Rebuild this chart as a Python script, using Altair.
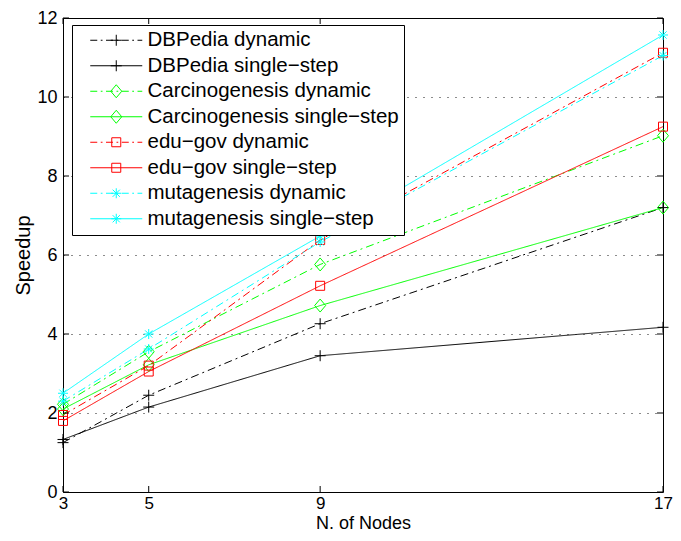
import altair as alt
import pandas as pd

# ---- data ----
nodes = [3, 5, 9, 17]
y_ticks = [0, 2, 4, 6, 8, 10, 12]
series_names = [
    "DBPedia dynamic",
    "DBPedia single\u2212step",
    "Carcinogenesis dynamic",
    "Carcinogenesis single\u2212step",
    "edu\u2212gov dynamic",
    "edu\u2212gov single\u2212step",
    "mutagenesis dynamic",
    "mutagenesis single\u2212step",
]
dbpedia_dynamic = [1.25, 2.45, 4.26, 7.20]
dbpedia_single = [1.33, 2.15, 3.45, 4.17]
carc_dynamic = [2.22, 3.55, 5.76, 9.02]
carc_single = [2.10, 3.22, 4.72, 7.20]
edugov_dynamic = [1.95, 3.20, 6.38, 11.12]
edugov_single = [1.80, 3.05, 5.22, 9.25]
muta_dynamic = [2.30, 3.62, 6.33, 11.05]
muta_single = [2.50, 4.00, 6.48, 11.57]
series_values = [dbpedia_dynamic, dbpedia_single, carc_dynamic, carc_single,
                 edugov_dynamic, edugov_single, muta_dynamic, muta_single]

rows = []
for name, vals in zip(series_names, series_values):
    for n, v in zip(nodes, vals):
        rows.append({"series": name, "nodes": n, "speedup": v})
df = pd.DataFrame(rows)

# ---- styles ----
FONT = "Liberation Sans"
W, H = 600, 474
colors = ["#000000", "#000000", "#00ff00", "#00ff00", "#ff0000", "#ff0000", "#00ffff", "#00ffff"]
DASHDOT = [8, 4, 2, 4]
dashes = [DASHDOT if "dynamic" in s else [1, 0] for s in series_names]
kinds = ["plus", "plus", "diamond", "diamond", "square", "square", "star", "star"]


def marker_path(kind, cx=0.0):
    if kind == "plus":
        return f"M{cx-1.1:.2f},0H{cx+1.1:.2f}M{cx:.2f},-1.1V1.1"
    if kind == "diamond":
        return f"M{cx:.2f},-1.3L{cx+1.1:.2f},0L{cx:.2f},1.3L{cx-1.1:.2f},0Z"
    if kind == "square":
        return f"M{cx-0.9:.2f},-0.9H{cx+0.9:.2f}V0.9H{cx-0.9:.2f}Z"
    d = 0.72
    return (f"M{cx-1:.2f},0H{cx+1:.2f}M{cx:.2f},-1V1"
            f"M{cx-d:.2f},{-d:.2f}L{cx+d:.2f},{d:.2f}M{cx-d:.2f},{d:.2f}L{cx+d:.2f},{-d:.2f}")


def line_path(dynamic, x0=0.6, x1=11.0):
    if not dynamic:
        return f"M{x0:.2f},0H{x1:.2f}"
    segs, x, pat, i = [], x0, [1.4, 0.7, 0.35, 0.7], 0
    while x < x1:
        L = pat[i % 4]
        if i % 2 == 0:
            segs.append(f"M{x:.2f},0H{min(x + L, x1):.2f}")
        x += L
        i += 1
    return "".join(segs)


marker_paths = [marker_path(k) for k in kinds]
legend_paths = [line_path("dynamic" in s) + marker_path(k, 5.8) for s, k in zip(series_names, kinds)]

x_enc = alt.X("nodes:Q",
              scale=alt.Scale(domain=[3, 17], nice=False, zero=False),
              axis=alt.Axis(values=nodes, title="N. of Nodes", grid=False, ticks=False,
                            domain=False, labelFlush=False, labelPadding=3,
                            labelFontSize=17, titleFontSize=18, titlePadding=3,
                            labelFont=FONT, titleFont=FONT, labelColor="black",
                            titleColor="black", titleFontWeight="normal"))
y_enc = alt.Y("speedup:Q",
              scale=alt.Scale(domain=[0, 12], nice=False),
              axis=alt.Axis(values=y_ticks, title="Speedup", grid=True, gridDash=[1, 7],
                            gridColor="black", gridOpacity=0.9, ticks=False, domain=False,
                            labelFlush=False, labelPadding=6, labelFontSize=18,
                            titleFontSize=20, titlePadding=3, labelFont=FONT, titleFont=FONT,
                            labelColor="black", titleColor="black", titleFontWeight="normal"))

color_scale = alt.Scale(domain=series_names, range=colors)

base = alt.Chart(df)

lines = base.mark_line(strokeWidth=1).encode(
    x=x_enc, y=y_enc,
    color=alt.Color("series:N", scale=color_scale, legend=None),
    strokeDash=alt.StrokeDash("series:N", scale=alt.Scale(domain=series_names, range=dashes), legend=None),
)

points = base.mark_point(filled=False, strokeWidth=1, size=100, opacity=1).encode(
    x="nodes:Q", y="speedup:Q",
    color=alt.Color("series:N", scale=color_scale, legend=None),
    shape=alt.Shape("series:N", scale=alt.Scale(domain=series_names, range=marker_paths), legend=None),
)

leg = alt.Legend(title=None, orient="none", legendX=9, legendY=7, padding=5,
                 strokeColor="black", fillColor="white", labelFontSize=20.5, labelFont=FONT,
                 labelColor="black", labelLimit=600, labelOffset=50, rowPadding=4.5,
                 symbolSize=100, symbolStrokeWidth=1, symbolOpacity=1, cornerRadius=0)

legend_layer = base.transform_filter("false").mark_point(filled=False, strokeWidth=1, size=100, opacity=1).encode(
    x="nodes:Q", y="speedup:Q",
    color=alt.Color("series:N", scale=color_scale, legend=leg),
    shape=alt.Shape("series:N", scale=alt.Scale(domain=series_names, range=legend_paths), legend=leg),
)

xt = pd.DataFrame({"nodes": nodes})
yt = pd.DataFrame({"speedup": y_ticks})
tick_len = 6
x_bottom = alt.Chart(xt).mark_rule(color="black", strokeWidth=1).encode(
    x="nodes:Q", y=alt.value(H), y2=alt.value(H - tick_len))
x_top = alt.Chart(xt).mark_rule(color="black", strokeWidth=1).encode(
    x="nodes:Q", y=alt.value(0), y2=alt.value(tick_len))
y_left = alt.Chart(yt).mark_rule(color="black", strokeWidth=1).encode(
    y="speedup:Q", x=alt.value(0), x2=alt.value(tick_len))
y_right = alt.Chart(yt).mark_rule(color="black", strokeWidth=1).encode(
    y="speedup:Q", x=alt.value(W - tick_len), x2=alt.value(W))

chart = alt.layer(lines, points, legend_layer, x_bottom, x_top, y_left, y_right).resolve_scale(
    color="independent", shape="independent", strokeDash="independent"
).properties(
    width=W, height=H,
    autosize=alt.AutoSizeParams(type="none"),
    padding={"left": 55, "top": 10, "right": 10, "bottom": 41},
    background="white",
).configure_view(stroke="black", strokeWidth=1)

chart.save("out.html", embed_options={"renderer": "svg", "actions": False})
